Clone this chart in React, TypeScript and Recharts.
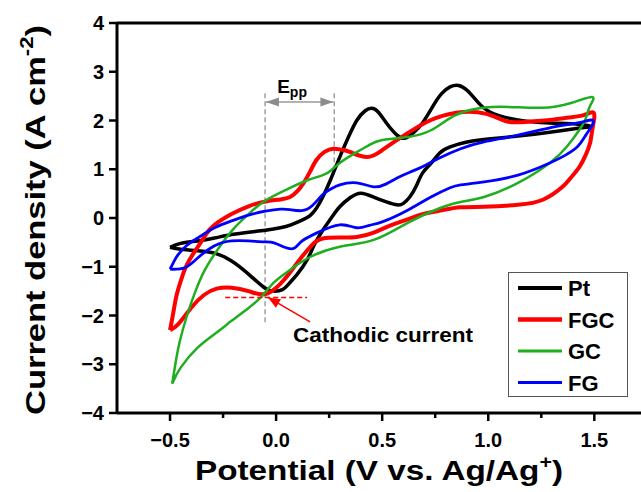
import React from 'react';
import { LineChart, Line, XAxis, YAxis, ReferenceLine, ReferenceDot, Legend } from 'recharts';

// [potential (V), current density (A cm-2)], one closed loop per electrode
const ptCurve: [number, number][] = [
  [-0.5, -0.6], [-0.45, -0.52], [-0.37, -0.47], [-0.29, -0.41], [-0.21, -0.34], [-0.13, -0.29],
  [-0.05, -0.25], [0.02, -0.2], [0.07, -0.14], [0.12, -0.05], [0.16, 0.05], [0.19, 0.2],
  [0.22, 0.43], [0.26, 0.82], [0.3, 1.25], [0.34, 1.65], [0.38, 2.0], [0.42, 2.2], [0.45, 2.25],
  [0.48, 2.18], [0.52, 1.95], [0.57, 1.7], [0.61, 1.64], [0.65, 1.76], [0.69, 1.95], [0.74, 2.3],
  [0.78, 2.55], [0.82, 2.69], [0.86, 2.72], [0.9, 2.62], [0.95, 2.38], [1.01, 2.17], [1.14, 2.01],
  [1.29, 1.95], [1.43, 1.92], [1.485, 1.88],
  [1.44, 1.85], [1.29, 1.76], [1.14, 1.68], [1.0, 1.62], [0.9, 1.56], [0.82, 1.46], [0.77, 1.33],
  [0.73, 1.12], [0.69, 0.92], [0.66, 0.65], [0.63, 0.43], [0.6, 0.3], [0.57, 0.27], [0.52, 0.33],
  [0.46, 0.43], [0.4, 0.51], [0.35, 0.42], [0.3, 0.23], [0.26, 0.0], [0.22, -0.25], [0.18, -0.55],
  [0.146, -0.86], [0.1, -1.15], [0.06, -1.35], [0.03, -1.47], [-0.01, -1.5], [-0.055, -1.43],
  [-0.13, -1.15], [-0.21, -0.88], [-0.29, -0.72], [-0.37, -0.67], [-0.45, -0.64], [-0.5, -0.6],
];

const fgcCurve: [number, number][] = [
  [-0.5, -2.3], [-0.485, -1.95], [-0.47, -1.6], [-0.45, -1.3], [-0.42, -0.95], [-0.37, -0.6],
  [-0.33, -0.33], [-0.29, -0.14], [-0.21, 0.08], [-0.13, 0.24], [-0.05, 0.34], [0.02, 0.38],
  [0.066, 0.43], [0.1, 0.55], [0.13, 0.72], [0.16, 0.95], [0.19, 1.19], [0.23, 1.36], [0.27, 1.42],
  [0.31, 1.4], [0.35, 1.35], [0.43, 1.25], [0.5, 1.39], [0.56, 1.57], [0.62, 1.74], [0.73, 2.01],
  [0.85, 2.16], [0.95, 2.17], [1.03, 2.08], [1.1, 1.97], [1.2, 1.98], [1.29, 2.01], [1.38, 2.06],
  [1.45, 2.11], [1.49, 2.17],
  [1.5, 2.07], [1.49, 1.8], [1.48, 1.54], [1.46, 1.3], [1.43, 1.05], [1.39, 0.83], [1.35, 0.64],
  [1.26, 0.38], [1.14, 0.27], [0.98, 0.23], [0.87, 0.22], [0.82, 0.19], [0.69, 0.08], [0.62, -0.03],
  [0.54, -0.15], [0.46, -0.3], [0.38, -0.39], [0.3, -0.4], [0.22, -0.42], [0.17, -0.55], [0.11, -0.86],
  [0.06, -1.15], [0.02, -1.35], [-0.05, -1.56], [-0.13, -1.5], [-0.21, -1.43], [-0.28, -1.45],
  [-0.34, -1.58], [-0.4, -1.84], [-0.46, -2.17], [-0.5, -2.3],
];

const gcCurve: [number, number][] = [
  [-0.49, -3.4], [-0.475, -3.0], [-0.455, -2.55], [-0.42, -2.0], [-0.38, -1.5], [-0.34, -1.1],
  [-0.29, -0.74], [-0.21, -0.27], [-0.13, 0.08], [-0.05, 0.36], [0.066, 0.62], [0.15, 0.78],
  [0.22, 0.88], [0.26, 0.98], [0.3, 1.13], [0.38, 1.35], [0.44, 1.5], [0.5, 1.6], [0.62, 1.66],
  [0.73, 1.8], [0.82, 2.05], [0.92, 2.22], [1.06, 2.28], [1.25, 2.26], [1.39, 2.36], [1.49, 2.48],
  [1.48, 2.3], [1.46, 2.05], [1.43, 1.81], [1.37, 1.46], [1.29, 1.13], [1.14, 0.72], [0.98, 0.43],
  [0.87, 0.33], [0.77, 0.2], [0.62, -0.1], [0.46, -0.45], [0.3, -0.59], [0.16, -0.8], [0.07, -1.05],
  [-0.01, -1.32], [-0.07, -1.62], [-0.14, -1.88], [-0.21, -2.11], [-0.29, -2.38], [-0.37, -2.66],
  [-0.45, -3.07], [-0.49, -3.4],
];

const fgCurve: [number, number][] = [
  [-0.5, -1.05], [-0.48, -0.88], [-0.46, -0.74], [-0.42, -0.56], [-0.37, -0.41], [-0.29, -0.2],
  [-0.21, -0.06], [-0.13, 0.06], [-0.05, 0.14], [0.02, 0.18], [0.066, 0.17], [0.12, 0.15],
  [0.17, 0.25], [0.22, 0.48], [0.26, 0.6], [0.3, 0.68], [0.38, 0.72], [0.46, 0.64], [0.52, 0.7],
  [0.57, 0.82], [0.63, 0.94], [0.69, 1.05], [0.77, 1.23], [0.87, 1.42], [0.98, 1.56], [1.14, 1.7],
  [1.29, 1.85], [1.42, 1.95], [1.49, 2.01],
  [1.49, 1.9], [1.46, 1.7], [1.42, 1.46], [1.36, 1.28], [1.29, 1.13], [1.14, 0.88], [0.98, 0.74],
  [0.87, 0.68], [0.82, 0.62], [0.73, 0.43], [0.62, 0.16], [0.5, -0.08], [0.44, -0.15], [0.38, -0.2],
  [0.3, -0.14], [0.19, -0.31], [0.12, -0.48], [0.085, -0.62], [0.04, -0.6], [-0.01, -0.51],
  [-0.055, -0.49], [-0.13, -0.47], [-0.21, -0.47], [-0.29, -0.57], [-0.37, -0.82], [-0.43, -1.02],
  [-0.5, -1.05],
];

const xTicks = [-0.5, -0.25, 0, 0.25, 0.5, 0.75, 1, 1.25, 1.5];
const xMajor = [-0.5, 0, 0.5, 1, 1.5];
const yTicks = [-4, -3, -2, -1, 0, 1, 2, 3, 4];

// annotation anchors, in data units
const eppLeftX = -0.052;
const eppRightX = 0.274;
const eppArrowY = 2.38;
const eppTextPos = { x: 0.005, y: 2.56 };
const cathodicY = -1.63;
const cathodicDash = [-0.24, 0.146];
const cathodicArrow = [{ x: 0.16, y: -2.13 }, { x: -0.038, y: -1.63 }];
const cathodicTextPos = { x: 0.08, y: -2.54 };

const series = [
  { name: 'Pt', color: '#000000', width: 3.5, legendWidth: 4, curve: ptCurve },
  { name: 'FGC', color: '#ff0000', width: 4, legendWidth: 4.5, curve: fgcCurve },
  { name: 'GC', color: '#1fae1f', width: 2.5, legendWidth: 3, curve: gcCurve },
  { name: 'FG', color: '#0000ff', width: 2.8, legendWidth: 3, curve: fgCurve },
];

const FONT = '"Liberation Sans", Arial, sans-serif';
const fmt = (v: number, digits: number) => (v < 0 ? '\u2212' : '') + Math.abs(v).toFixed(digits);

const XTick = ({ x, y, payload }: any) => {
  const major = xMajor.includes(payload.value);
  return (
    <g>
      <line x1={x} x2={x} y1={y} y2={y + (major ? 8 : 5)} stroke="#000" strokeWidth={2.5} />
      {major && (
        <text x={x} y={y + 34} textAnchor="middle" fontSize={20} fontWeight="bold" fontFamily={FONT} fill="#000">
          {fmt(payload.value, 1)}
        </text>
      )}
    </g>
  );
};

const YTick = ({ x, y, payload }: any) => (
  <g>
    <line x1={x - 8} x2={x} y1={y} y2={y} stroke="#000" strokeWidth={2.5} />
    <text x={x - 13} y={y + 7} textAnchor="end" fontSize={20} fontWeight="bold" fontFamily={FONT} fill="#000">
      {fmt(payload.value, 0)}
    </text>
  </g>
);

const arrowHead = (tx: number, ty: number, fx: number, fy: number, len: number, half: number, color: string) => {
  const d = Math.hypot(tx - fx, ty - fy) || 1;
  const ux = (tx - fx) / d;
  const uy = (ty - fy) / d;
  const bx = tx - ux * len;
  const by = ty - uy * len;
  return (
    <polygon
      points={`${tx},${ty} ${bx - uy * half},${by + ux * half} ${bx + uy * half},${by - ux * half}`}
      fill={color}
    />
  );
};

const DoubleArrow = (p: any) => (
  <g>
    <line x1={p.x1} y1={p.y1} x2={p.x2} y2={p.y2} stroke="#9a9a9a" strokeWidth={1.5} />
    {arrowHead(p.x1, p.y1, p.x2, p.y2, 13, 4.5, '#8c8c8c')}
    {arrowHead(p.x2, p.y2, p.x1, p.y1, 13, 4.5, '#8c8c8c')}
  </g>
);

const RedArrow = (p: any) => (
  <g>
    <line x1={p.x1} y1={p.y1} x2={p.x2} y2={p.y2} stroke="#ff0000" strokeWidth={1.5} />
    {arrowHead(p.x2, p.y2, p.x1, p.y1, 12, 5, '#ff0000')}
  </g>
);

const EppText = ({ cx, cy }: any) => (
  <text x={cx} y={cy} fontSize={19} fontWeight="bold" fontFamily={FONT} fill="#000">
    E<tspan fontSize={14} dy={4}>pp</tspan>
  </text>
);

const CathodicText = ({ cx, cy }: any) => (
  <text x={cx} y={cy} fontSize={20} fontWeight="bold" fontFamily={FONT} fill="#000" textLength={180} lengthAdjust="spacingAndGlyphs">
    Cathodic current
  </text>
);

const renderLegend = () => (
  <div style={{ width: 120, height: 125, border: '1px solid #555', boxSizing: 'border-box', background: '#fff' }}>
    <svg width={118} height={123}>
      {series.map((s, i) => {
        const cy = 15 + i * 31.5;
        return (
          <g key={s.name}>
            <line x1={9} x2={53} y1={cy} y2={cy} stroke={s.color} strokeWidth={s.legendWidth} />
            <text x={59} y={cy + 8} fontSize={22} fontWeight="bold" fontFamily={FONT} fill="#000">
              {s.name}
            </text>
          </g>
        );
      })}
    </svg>
  </div>
);

const XTitle = ({ viewBox }: any) => (
  <text
    x={viewBox.x + viewBox.width / 2}
    y={viewBox.y + 67}
    textAnchor="middle"
    fontSize={28}
    fontWeight="bold"
    fontFamily={FONT}
    fill="#000"
    textLength={368}
    lengthAdjust="spacingAndGlyphs"
  >
    Potential (V vs. Ag/Ag<tspan fontSize={18} dy={-12}>+</tspan>
    <tspan dy={12}>)</tspan>
  </text>
);

const YTitle = ({ viewBox }: any) => {
  const cx = 45;
  const cy = viewBox.y + 197;
  return (
    <text
      x={cx}
      y={cy}
      transform={`rotate(-90, ${cx}, ${cy})`}
      textAnchor="middle"
      fontSize={28}
      fontWeight="bold"
      fontFamily={FONT}
      fill="#000"
      textLength={390}
      lengthAdjust="spacingAndGlyphs"
    >
      Current density (A cm<tspan fontSize={18} dy={-12}>-2</tspan>
      <tspan dy={12}>)</tspan>
    </text>
  );
};

export default function App() {
  return (
    <div style={{ position: 'absolute', left: 0, top: 0, width: 641, height: 492, background: '#fff' }}>
      <LineChart width={641} height={492} margin={{ top: 23, right: 0, bottom: 0, left: 0 }} style={{ fontFamily: FONT }}>
        <XAxis
          type="number"
          dataKey="x"
          domain={[-0.75, 1.72]}
          allowDataOverflow
          ticks={xTicks}
          interval={0}
          height={79}
          tickSize={0}
          tickMargin={0}
          tickLine={false}
          tick={<XTick />}
          axisLine={{ stroke: '#000', strokeWidth: 3 }}
          label={{ content: <XTitle /> }}
        />
        <YAxis
          type="number"
          dataKey="y"
          domain={[-4, 4]}
          allowDataOverflow
          ticks={yTicks}
          interval={0}
          width={117}
          tickSize={0}
          tickMargin={0}
          tickLine={false}
          tick={<YTick />}
          axisLine={{ stroke: '#000', strokeWidth: 3 }}
          label={{ content: <YTitle /> }}
        />
        <ReferenceLine y={4} stroke="#000" strokeWidth={3} />

        <ReferenceLine
          segment={[{ x: eppLeftX, y: 2.56 }, { x: eppLeftX, y: -2.15 }]}
          stroke="#a0a0a0"
          strokeWidth={1.5}
          strokeDasharray="5 3"
        />
        <ReferenceLine
          segment={[{ x: eppRightX, y: 2.56 }, { x: eppRightX, y: 1.0 }]}
          stroke="#a0a0a0"
          strokeWidth={1.5}
          strokeDasharray="5 3"
        />
        <ReferenceLine
          segment={[{ x: eppLeftX + 0.004, y: eppArrowY }, { x: eppRightX - 0.004, y: eppArrowY }]}
          shape={DoubleArrow}
        />
        <ReferenceDot x={eppTextPos.x} y={eppTextPos.y} r={1} shape={EppText} />

        {series.map((s) => (
          <Line
            key={s.name}
            name={s.name}
            data={s.curve.map(([x, y]) => ({ x, y }))}
            dataKey="y"
            type="natural"
            stroke={s.color}
            strokeWidth={s.width}
            dot={false}
            activeDot={false}
            isAnimationActive={false}
          />
        ))}

        <ReferenceLine
          segment={[{ x: cathodicDash[0], y: cathodicY }, { x: cathodicDash[1], y: cathodicY }]}
          stroke="#ff0000"
          strokeWidth={1.5}
          strokeDasharray="5 3"
        />
        <ReferenceLine segment={cathodicArrow} shape={RedArrow} />
        <ReferenceDot x={cathodicTextPos.x} y={cathodicTextPos.y} r={1} shape={CathodicText} />

        <Legend
          layout="vertical"
          align="center"
          verticalAlign="middle"
          content={renderLegend}
          wrapperStyle={{ left: 508, top: 272, width: 120, height: 125 }}
        />
      </LineChart>
    </div>
  );
}
